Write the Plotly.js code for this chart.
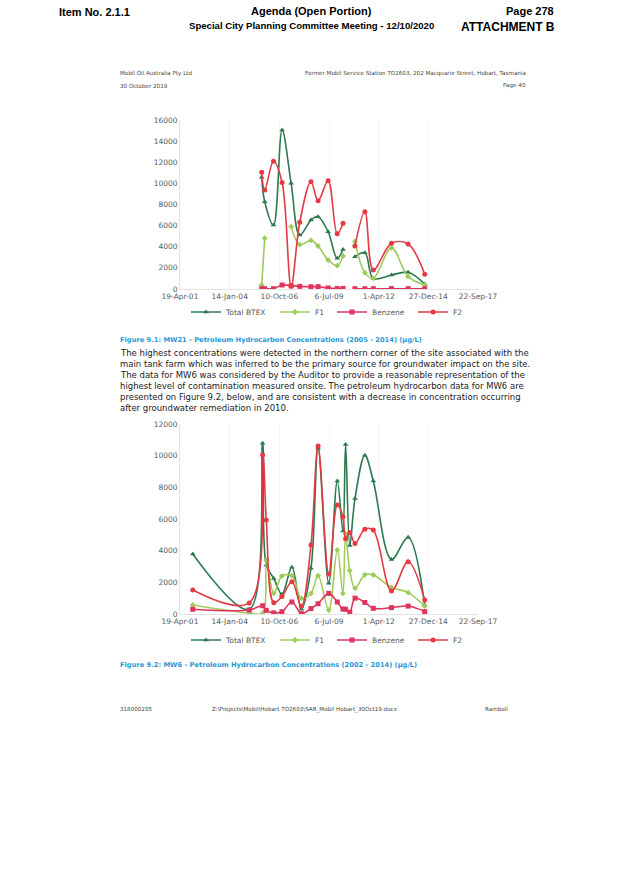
<!DOCTYPE html>
<html>
<head>
<meta charset="utf-8">
<script src="https://cdn.plot.ly/plotly-3.0.1.min.js"></script>
<style>
  html, body { margin: 0; padding: 0; background: #ffffff; }
  #chart { width: 622px; height: 879px; }
</style>
</head>
<body>
<div id="chart"></div>
<script>
// ---------- DATA ----------
// Figure 9.1 : MW21 (2005 - 2014), ug/L
const dates1 = ['2005-10-20','2005-12-20','2006-06-15','2006-12-05','2007-06-05','2007-11-25','2008-07-08','2008-11-28','2009-06-18','2009-12-18','2010-04-15','2010-08-01','2010-12-10','2011-06-28','2011-12-15','2012-12-15','2013-11-15','2014-10-15'];
const btex1    = [10575, 8265, 6060, 15050, 10000, 5110, 6530, 6850, 5420, 2900, 3750, null, 3060, 3440, 1010, 1325, 1580, 470];
const f1_1     = [380, 4800, null, null, 5900, 4200, 4600, 4070, 2750, 2210, 3120, null, 4480, 1550, 1010, 3910, 1170, 380];
const benzene1 = [30, 30, 30, 380, 310, 250, 220, 220, 100, 50, 60, null, 30, 30, 30, 30, 30, 30];
const f2_1     = [11050, 9370, 12100, 10080, 260, 6320, 10160, 8360, 10250, 5240, 6220, null, 4070, 7320, 1800, 4330, 4260, 1390];

// Figure 9.2 : MW6 (2002 - 2014), ug/L
const dates2 = ['2002-01-01','2005-02-10','2005-11-08','2006-01-20','2006-06-20','2006-12-01','2007-06-20','2007-12-28','2008-07-08','2008-11-28','2009-07-01','2009-12-20','2010-04-12','2010-06-05','2010-08-28','2010-12-12','2011-06-28','2011-12-15','2012-12-15','2013-11-15','2014-10-15'];
const btex2    = [3790, 300, 10780, 3100, 2250, 1250, 2960, 300, 2890, 10450, 1940, 8400, 5250, 10700, 4330, 7300, 10020, 8400, 3450, 4840, 570];
const f1_2     = [570, 60, 60, 3400, 1300, 2400, 2420, 990, 1300, 2420, 250, 4040, 1300, 5050, 2740, 1620, 2480, 2460, 1680, 1350, 500];
const benzene2 = [300, 250, 520, 230, 70, 140, 760, 20, 340, 650, 1300, 760, 310, 300, 110, 1000, 730, 360, 400, 500, 150];
const f2_2     = [1516, 700, 10040, 5940, 715, 1100, 2040, 490, 4360, 10610, 2530, 6880, 6150, 4760, 5140, 4460, 5360, 5300, 1450, 3300, 880];

// Axis ticks
const tickDates  = ['2001-04-19','2004-01-14','2006-10-10','2009-07-06','2012-04-01','2014-12-27','2017-09-22'];
const tickLabels = ['19-Apr-01','14-Jan-04','10-Oct-06','6-Jul-09','1-Apr-12','27-Dec-14','22-Sep-17'];
const seriesNames = ['Total BTEX','F1','Benzene','F2'];

// ---------- STYLE ----------
const W = 622, H = 879;
const px = x => x / W;
const py = y => 1 - y / H;
const colors  = ['#2b7a4e', '#9fcb5c', '#e0335d', '#e43a44'];
const symbols = ['triangle-up', 'diamond', 'square', 'circle'];
const legWidths = [44, 12, 36, 12];
const tickFont = { family: 'DejaVu Sans, Verdana, sans-serif', size: 7.5, color: '#595959' };

function series(x, ys, xa, ya, leg) {
  return ys.map((y, i) => ({
    type: 'scatter', mode: 'lines+markers',
    x: x, y: y, name: seriesNames[i],
    xaxis: xa, yaxis: ya, legend: leg, legendwidth: legWidths[i],
    connectgaps: false,
    line: { color: colors[i], width: 1.6, shape: 'spline', smoothing: 1 },
    marker: { color: colors[i], symbol: symbols[i], size: i === 1 ? 4.5 : 5 },
    hoverinfo: 'x+y+name'
  }));
}

const traces = [
  ...series(dates1, [btex1, f1_1, benzene1, f2_1], 'x', 'y', 'legend'),
  ...series(dates2, [btex2, f1_2, benzene2, f2_2], 'x2', 'y2', 'legend2')
];

const xBase = {
  type: 'date',
  range: ['2001-04-19', '2017-09-22'],
  tickmode: 'array', tickvals: tickDates, ticktext: tickLabels,
  tickfont: tickFont, showgrid: true, gridcolor: '#f5f5f5', gridwidth: 1,
  showline: true, linecolor: '#e3e3e3', linewidth: 1,
  ticks: '', zeroline: false, fixedrange: true,
  domain: [px(180), px(478)]
};
const yBase = {
  tickfont: tickFont, showgrid: false, zeroline: false,
  showline: true, linecolor: '#e3e3e3', linewidth: 1,
  ticks: '', tickformat: 'd', dtick: 2000, tick0: 0, fixedrange: true
};

const legBase = {
  orientation: 'h', xanchor: 'center', yanchor: 'middle',
  font: { family: 'DejaVu Sans, Verdana, sans-serif', size: 7.5, color: '#595959' },
  bgcolor: 'rgba(0,0,0,0)', itemwidth: 30, tracegroupgap: 0
};

// ---------- TEXT ----------
const hdrFont = (size) => ({ family: 'Liberation Sans, Arial, sans-serif', size: size, color: '#000', weight: 'bold' });
const smallFont = { family: 'DejaVu Sans, Verdana, sans-serif', size: 5.6, color: '#444' };
const paraFont  = { family: 'DejaVu Sans, Verdana, sans-serif', size: 8.5, color: '#222' };
const capFont   = { family: 'DejaVu Sans, Verdana, sans-serif', size: 6.7, color: '#1f97d4', weight: 'bold' };

function txt(text, x, y, font, anchor) {
  return { text: text, x: px(x), y: py(y), xref: 'paper', yref: 'paper',
           xanchor: anchor || 'left', yanchor: 'middle', showarrow: false, font: font };
}

const paragraph = [
  'The highest concentrations were detected in the northern corner of the site associated with the',
  'main tank farm which was inferred to be the primary source for groundwater impact on the site.',
  'The data for MW6 was considered by the Auditor to provide a reasonable representation of the',
  'highest level of contamination measured onsite. The petroleum hydrocarbon data for MW6 are',
  'presented on Figure 9.2, below, and are consistent with a decrease in concentration occurring',
  'after groundwater remediation in 2010.'
];

const annotations = [
  txt('<b>Item No. 2.1.1</b>', 57, 12, hdrFont(11)),
  txt('<b>Agenda (Open Portion)</b>', 311, 11, hdrFont(11), 'center'),
  txt('<b>Special City Planning Committee Meeting - 12/10/2020</b>', 311, 25, hdrFont(9.6), 'center'),
  txt('<b>Page 278</b>', 556, 11, hdrFont(11), 'right'),
  txt('<b>ATTACHMENT B</b>', 557, 27, hdrFont(12), 'right'),
  txt('Mobil Oil Australia Pty Ltd', 118, 73, smallFont),
  txt('30 October 2019', 118, 86, smallFont),
  txt('Former Mobil Service Station TO2603, 202 Macquarie Street, Hobart, Tasmania', 528, 73, smallFont, 'right'),
  txt('Page 40', 528, 86, smallFont, 'right'),
  txt('Figure 9.1: MW21 - Petroleum Hydrocarbon Concentrations (2005 - 2014) (µg/L)', 118, 340, capFont),
  ...paragraph.map((l, i) => txt(l, 118, 353 + i * 11, paraFont)),
  txt('Figure 9.2: MW6 - Petroleum Hydrocarbon Concentrations (2002 - 2014) (µg/L)', 118, 665, capFont),
  txt('318000205', 118, 709, smallFont),
  txt('Z:\\Projects\\Mobil\\Hobart TO2603\\SAR_Mobil Hobart_30Oct19.docx', 305, 709, smallFont, 'center'),
  txt('Ramboll', 510, 709, smallFont, 'right')
];

const layout = {
  width: W, height: H,
  margin: { l: 0, r: 0, t: 0, b: 0 },
  paper_bgcolor: '#ffffff', plot_bgcolor: '#ffffff',
  showlegend: true,
  xaxis:  Object.assign({}, xBase, { anchor: 'y' }),
  yaxis:  Object.assign({}, yBase, { range: [0, 16000], domain: [py(289), py(120)], anchor: 'x' }),
  xaxis2: Object.assign({}, xBase, { anchor: 'y2' }),
  yaxis2: Object.assign({}, yBase, { range: [0, 12000], domain: [py(614), py(424)], anchor: 'x2' }),
  legend:  Object.assign({}, legBase, { x: px(328), y: py(312) }),
  legend2: Object.assign({}, legBase, { x: px(328), y: py(640) }),
  annotations: annotations
};

Plotly.newPlot('chart', traces, layout, { displayModeBar: false, staticPlot: true });
</script>
</body>
</html>
